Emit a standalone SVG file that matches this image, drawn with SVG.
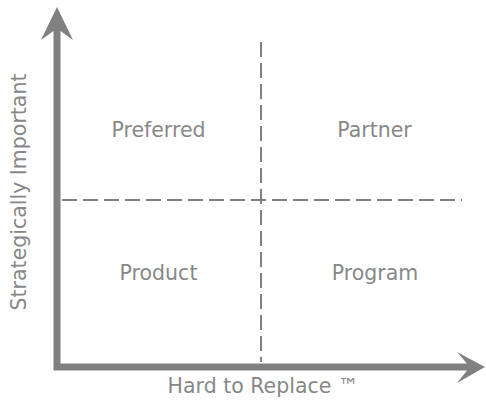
<svg xmlns="http://www.w3.org/2000/svg" width="486" height="402" viewBox="0 0 486 402">
<style>
.lbl{font-family:"DejaVu Sans","Verdana",sans-serif;font-size:20.5px;fill:#888888}
.axis{fill:#808080}
.dash{stroke:#808080;stroke-width:2;stroke-dasharray:15 6;fill:none}
</style>
<rect width="486" height="402" fill="#ffffff"/>
<g id="connectors">
<line class="dash" x1="261" y1="42" x2="261" y2="362"/>
<line class="dash" x1="62" y1="200" x2="462" y2="200"/>
</g>
<g id="axes">
<path class="axis" d="M53.5,370.5 L53.5,31 L41,40 L57,7 L73,40 L60.5,31 L60.5,363.5 L467,363.5 L457,352 L485,367 L457,383 L467,370.5 Z"/>
</g>
<g id="preferred"><text class="lbl" x="158.5" y="136.5" text-anchor="middle">Preferred</text></g>
<g id="partner"><text class="lbl" x="374.5" y="136.5" text-anchor="middle">Partner</text></g>
<g id="product"><text class="lbl" x="158.5" y="280" text-anchor="middle">Product</text></g>
<g id="program"><text class="lbl" x="375" y="280" text-anchor="middle">Program</text></g>
<g id="x-label"><text class="lbl" x="263" y="393" text-anchor="middle">Hard to Replace ™</text></g>
<g id="y-label"><text class="lbl" transform="translate(26,192) rotate(-90)" text-anchor="middle">Strategically Important</text></g>
</svg>
